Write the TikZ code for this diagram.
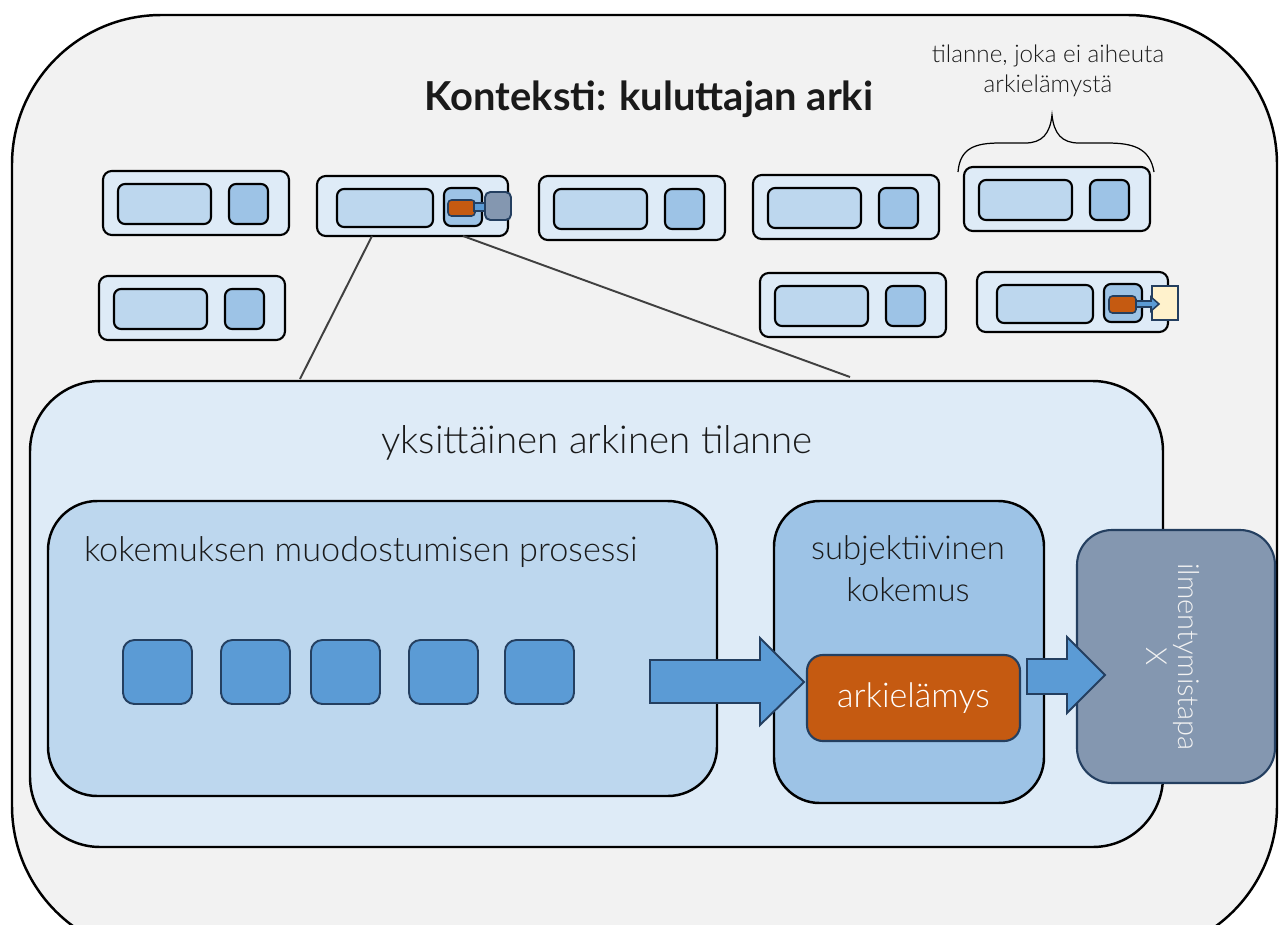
\documentclass[tikz,border=0pt]{standalone}
\usepackage{fontspec}
\setmainfont{Lato Light}[BoldFont={Lato Bold}]
\usetikzlibrary{fit}

\definecolor{ctxfill}{HTML}{F2F2F2}
\definecolor{tierA}{HTML}{DEEBF7}
\definecolor{tierB}{HTML}{BDD7EE}
\definecolor{tierC}{HTML}{9DC3E6}
\definecolor{stepblue}{HTML}{5B9BD5}
\definecolor{rust}{HTML}{C55A11}
\definecolor{slate}{HTML}{8497B0}
\definecolor{navy}{HTML}{243F60}
\definecolor{cream}{HTML}{FFF2CC}
\definecolor{linkgrey}{HTML}{404040}
\definecolor{ink}{HTML}{1A1A1A}

% a box spanning two corner points (pixel units)
\newcommand\cornerbox[6]{\node[#2, fit={(#3,#4) (#5,#6)}] (#1) {};}

% a small situation: outer frame with two inner boxes
\newcommand\situation[3]{%
  \cornerbox{#1}{frame}{#2}{#3}{#2+186}{#3+64}
  \cornerbox{#1-a}{slotA}{#2+15}{#3+13}{#2+108}{#3+53}
  \cornerbox{#1-b}{slotB}{#2+126}{#3+13}{#2+165}{#3+53}}
\newcommand\widesituation[3]{%
  \cornerbox{#1}{frame}{#2}{#3}{#2+191}{#3+60}
  \cornerbox{#1-a}{slotA}{#2+20}{#3+13}{#2+116}{#3+51}
  \cornerbox{#1-b}{slotB}{#2+127}{#3+12}{#2+165}{#3+50}}

\begin{document}
\begin{tikzpicture}[x=0.02cm, y=-0.02cm,
  every node/.style={inner sep=0pt, outer sep=0pt},
  frame/.style={draw=black, line width=1.2pt, fill=tierA, rounded corners=5pt},
  slotA/.style={draw=black, line width=1.2pt, fill=tierB, rounded corners=4pt},
  slotB/.style={draw=black, line width=1.2pt, fill=tierC, rounded corners=4pt},
  stepbox/.style={draw=navy, line width=1.1pt, fill=stepblue, rounded corners=6.5pt},
  blockarrow/.style={draw=navy, line width=1.1pt, fill=stepblue, line join=miter},
  link/.style={draw=linkgrey, line width=1.1pt},
  txt/.style={text=ink, font=#1},
  ]
\useasboundingbox (0,0) rectangle (1279,924);
\clip (0,0) rectangle (1279,924);

% context frame
\cornerbox{context}{draw=black, line width=1.4pt, fill=ctxfill, rounded corners=85pt}{12}{15}{1277}{955}
\node[txt={\fontsize{22.7}{27}\selectfont\bfseries}, anchor=base] (title) at (649,110) {Konteksti: kuluttajan arki};

% everyday situations
\situation{s1}{103}{171}
\widesituation{s2}{317}{176}
\situation{s3}{539}{176}
\situation{s4}{753}{175}
\situation{s5}{964}{167}
\situation{s6}{99}{276}
\situation{s7}{760}{273}
\widesituation{s8}{977}{272}

% details inside situation s2
\cornerbox{s2-exp}{draw=navy, line width=0.9pt, fill=rust, rounded corners=2pt}{448}{200}{475}{216}
\cornerbox{s2-bar}{draw=navy, line width=0.9pt, fill=stepblue}{474}{203}{487}{211}
\cornerbox{s2-out}{draw=navy, line width=1.1pt, fill=slate, rounded corners=3pt}{485}{192}{511}{220}

% details inside situation s8
\cornerbox{s8-exp}{draw=navy, line width=0.9pt, fill=rust, rounded corners=2pt}{1109}{296}{1136}{313}
\cornerbox{s8-out}{draw=navy, line width=1.1pt, fill=cream}{1152}{286}{1178}{320}
\draw[draw=navy, line width=0.9pt, fill=stepblue, line join=miter]
  (s8-exp.east |- 0,301) -- (1151,301) -- (1151,297) -- (1159,304)
  -- (1151,311) -- (1151,307) -- (s8-exp.east |- 0,307) -- cycle;

% brace over the situation without an everyday experience
\draw[black, line width=0.7pt]
  (s5.north west) ++(-6,5) coordinate (brL)
  (brL) .. controls (960,148) and (975,143) .. (1000,143) -- (1025,143)
  .. controls (1042,143) and (1050,134) .. (1052,115) coordinate (brT)
  .. controls (1054,134) and (1062,143) .. (1079,143) -- (1107,143)
  .. controls (1133,143) and (1150,148) .. (1154,172) coordinate (brR);
\node[txt={\fontsize{13.8}{17}\selectfont}, align=center, anchor=base] (nonote) at (1048,92)
  {tilanne, joka ei aiheuta\\arkielämystä};

% zoom lines from s2 to the single situation
\coordinate (zL) at (300,379);
\coordinate (zR) at (850,377);
\draw[link] (s2.south -| 372,0) -- (zL);
\draw[link] (s2.south -| 463,0) -- (zR);

% single everyday situation
\cornerbox{single}{draw=black, line width=1.4pt, fill=tierA, rounded corners=40pt}{30}{381}{1163}{847}
\node[txt={\fontsize{21.9}{26}\selectfont}, anchor=base] (singlelbl) at (597,453) {yksittäinen arkinen tilanne};

% experience formation process
\cornerbox{process}{draw=black, line width=1.4pt, fill=tierB, rounded corners=28pt}{48}{501}{717}{796}
\node[txt={\fontsize{19.5}{23}\selectfont}, anchor=base west] (processlbl) at (84,561) {kokemuksen muodostumisen prosessi};
\cornerbox{p1}{stepbox}{123}{640}{192}{704}
\cornerbox{p2}{stepbox}{221}{640}{290}{704}
\cornerbox{p3}{stepbox}{311}{640}{380}{704}
\cornerbox{p4}{stepbox}{409}{640}{478}{704}
\cornerbox{p5}{stepbox}{505}{640}{574}{704}

% subjective experience
\cornerbox{subj}{draw=black, line width=1.4pt, fill=tierC, rounded corners=26pt}{774}{501}{1044}{803}
\node[txt={\fontsize{18.7}{23.5}\selectfont}, align=center, anchor=base] (subjlbl) at (908,601) {subjektiivinen\\kokemus};

% manifestation
\cornerbox{manif}{draw=navy, line width=1.2pt, fill=slate, rounded corners=20pt}{1077}{530}{1275}{783}
\node[text=ctxfill, font=\fontsize{16.5}{18}\selectfont, align=center, rotate=-90] (maniflbl) at (1173,657) {ilmentymistapa\\X};

% arrows
\draw[blockarrow] (650,660) -- (760,660) -- (760,638) -- (804,682) -- (760,725) -- (760,703) -- (650,703) -- cycle;

% everyday experience
\cornerbox{daily}{draw=navy, line width=1.2pt, fill=rust, rounded corners=9pt}{807}{655}{1020}{741}
\node[text=white, font=\fontsize{19.4}{22}\selectfont] (dailylbl) at (daily.center) {arkielämys};

\draw[blockarrow] (daily.east |- 0,659) ++(7,0) -- (1067,659) -- (1067,637) -- (1105,675) -- (1067,713) -- (1067,694) -- (1027,694) -- cycle;
\end{tikzpicture}
\end{document}
